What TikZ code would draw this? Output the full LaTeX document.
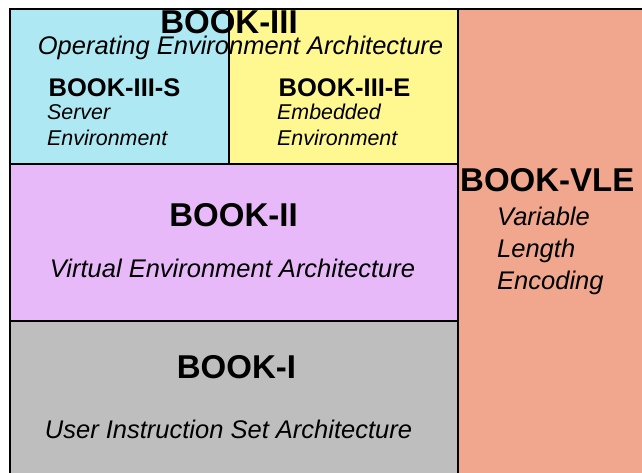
\documentclass[tikz,border=0pt]{standalone}
\usepackage{fontspec}
\setmainfont{Liberation Sans}
\definecolor{cyanbox}{HTML}{AEE9F3}
\definecolor{yellowbox}{HTML}{FFF78F}
\definecolor{purplebox}{HTML}{E8B9F8}
\definecolor{graybox}{HTML}{BEBEBE}
\definecolor{salmonbox}{HTML}{F0A78E}
\begin{document}
\begin{tikzpicture}[x=1pt,y=-1pt,
  box/.style={draw=black,line width=2pt},
  bigttl/.style={font=\bfseries\fontsize{33}{36}\selectfont,anchor=base,inner sep=0pt},
  smallttl/.style={font=\bfseries\fontsize{25.5}{28}\selectfont,anchor=base west,inner sep=0pt},
  sub/.style={font=\itshape\fontsize{25.5}{28}\selectfont,anchor=base,inner sep=0pt},
  smallsub/.style={font=\itshape\fontsize{21.4}{24}\selectfont,anchor=base west,inner sep=0pt}]
\useasboundingbox (0,0) rectangle (642,473);
\fill[white] (0,0) rectangle (642,473);
\clip (0,0) rectangle (642,473);
% boxes
\draw[box,fill=salmonbox] (458,9) rectangle (660,490);
\draw[box,fill=graybox] (10,321) rectangle (458,490);
\draw[box,fill=purplebox] (10,164) rectangle (458,321);
\draw[box,fill=cyanbox] (10,9) rectangle (229,164);
\draw[box,fill=yellowbox] (229,9) rectangle (458,164);
% texts
\node[bigttl] (b3) at (229,34) {BOOK-III};
\node[sub] (b3s) at (240.5,55) {Operating Environment Architecture};
\node[smallttl] (b3S) at (48.5,97) {BOOK-III-S};
\node[smallsub] (b3Sa) at (47,120) {Server};
\node[smallsub] (b3Sb) at (47,146) {Environment};
\node[smallttl] (b3E) at (278.5,97) {BOOK-III-E};
\node[smallsub] (b3Ea) at (277,120) {Embedded};
\node[smallsub] (b3Eb) at (277,146) {Environment};
\node[bigttl] (b2) at (233.5,226) {BOOK-II};
\node[sub] (b2s) at (232.5,277) {Virtual Environment Architecture};
\node[bigttl] (b1) at (236.5,378) {BOOK-I};
\node[sub] (b1s) at (228.5,438) {User Instruction Set Architecture};
\node[bigttl,anchor=base west] (bv) at (460,191) {BOOK-VLE};
\node[sub,anchor=base west] (bva) at (497,225) {Variable};
\node[sub,anchor=base west] (bvb) at (497,257) {Length};
\node[sub,anchor=base west] (bvc) at (497,289) {Encoding};
\end{tikzpicture}
\end{document}
